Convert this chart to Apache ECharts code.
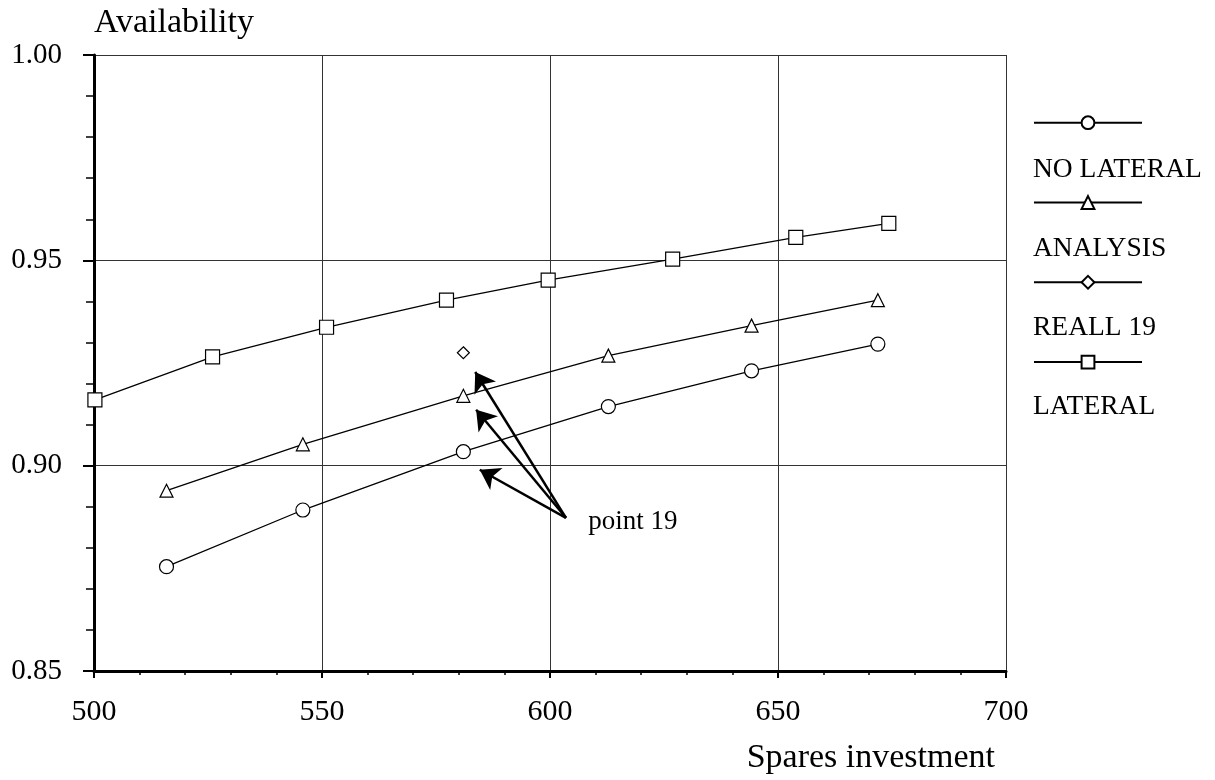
<!DOCTYPE html>
<html><head><meta charset="utf-8">
<script src="https://cdn.jsdelivr.net/npm/echarts@6/dist/echarts.min.js"></script>
<style>html,body{margin:0;padding:0;background:#fff}#c{width:1215px;height:780px}</style>
</head><body><div id="c"></div>
<script>
// ---- data ----
const seriesNames = ['NO LATERAL', 'ANALYSIS', 'REALL 19', 'LATERAL'];
const noLateralX = [515.9, 545.8, 581.0, 612.8, 644.2, 671.9];
const noLateralY = [0.8754, 0.8892, 0.9034, 0.9144, 0.9231, 0.9296];
const analysisX = [515.9, 545.8, 581.0, 612.8, 644.2, 671.9];
const analysisY = [0.8939, 0.9052, 0.9170, 0.9268, 0.9341, 0.9403];
const reallX = [581.0];
const reallY = [0.9275];
const lateralX = [500.2, 526.0, 551.0, 577.3, 599.6, 626.9, 653.9, 674.3];
const lateralY = [0.9160, 0.9265, 0.9337, 0.9403, 0.9452, 0.9503, 0.9556, 0.9590];
// arrow annotation: tail and three heads (data units)
const arrowTail = [603.5, 0.8873];
const arrowHeads = [[583.6, 0.9228], [583.8, 0.9136], [584.6, 0.8990]];
const annotationText = 'point 19';
const annotationAt = [608.3, 0.8863];
const xTicks = { min: 500, max: 700, interval: 50 };
const yTicks = { min: 0.85, max: 1.0, interval: 0.05 };

const zip = (xs, ys) => xs.map((x, i) => [x, ys[i]]);
const FONT = 'Liberation Serif';
const markerStyle = { color: '#fff', borderColor: '#000', borderWidth: 1.2, opacity: 1 };
const lineStyle = { color: '#000', width: 1.3 };

function mkSeries(name, data, symbol, size) {
  return {
    name, type: 'line', data, symbol, symbolSize: size, showSymbol: true,
    itemStyle: markerStyle, lineStyle, animation: false, z: 3,
    emphasis: { disabled: true }
  };
}

const series = [
  mkSeries(seriesNames[0], zip(noLateralX, noLateralY), 'circle', 14),
  mkSeries(seriesNames[1], zip(analysisX, analysisY), 'triangle', 13),
  mkSeries(seriesNames[2], zip(reallX, reallY), 'diamond', 12),
  mkSeries(seriesNames[3], zip(lateralX, lateralY), 'rect', 14),
  {
    name: 'annotation', type: 'scatter', data: [], color: '#000',
    itemStyle: { color: '#000' }, animation: false, z: 4,
    markLine: {
      silent: true, animation: false,
      symbol: ['none', 'arrow'], symbolSize: 19,
      itemStyle: { color: '#000' },
      lineStyle: { color: '#000', width: 2.5, type: 'solid' },
      label: { show: false },
      emphasis: { disabled: true },
      data: arrowHeads.map(h => [{ coord: arrowTail, symbol: 'none' }, { coord: h, symbol: 'arrow' }])
    },
    markPoint: {
      silent: true, animation: false,
      symbol: 'circle', symbolSize: 1, itemStyle: { color: 'rgba(0,0,0,0)' },
      label: { show: true, position: 'right', distance: 0, formatter: annotationText,
               color: '#000', fontFamily: FONT, fontSize: 27 },
      data: [{ coord: annotationAt }]
    }
  }
];

const chart = echarts.init(document.getElementById('c'), null, { renderer: 'canvas' });
chart.setOption({
  backgroundColor: '#fff',
  animation: false,
  grid: { left: 94, right: 209, top: 55, bottom: 109, containLabel: false },
  legend: [
    {
      data: seriesNames, orient: 'vertical', left: 1028, top: 110.3,
      itemWidth: 108, itemHeight: 16, itemGap: 65,
      formatter: () => '', textStyle: { fontSize: 10, lineHeight: 10 },
      selectedMode: false
    },
    {
      data: seriesNames.map(n => ({ name: n, icon: 'none' })), orient: 'vertical', left: 1022, top: 151,
      itemWidth: 1, itemHeight: 27, itemGap: 51,
      textStyle: { fontFamily: FONT, fontSize: 27.5, lineHeight: 27, color: '#000' },
      selectedMode: false
    }
  ],
  xAxis: {
    type: 'value', min: xTicks.min, max: xTicks.max, interval: xTicks.interval,
    name: 'Spares investment', nameLocation: 'end', nameGap: -11,
    nameTextStyle: { fontFamily: FONT, fontSize: 34, color: '#000', align: 'right', verticalAlign: 'top', padding: [70, 0, 0, 0] },
    axisLine: { show: true, onZero: false, lineStyle: { color: '#000', width: 3 } },
    axisTick: { show: true, inside: false, length: 7, lineStyle: { color: '#000', width: 2 } },
    minorTick: { show: true, splitNumber: 5, length: 4, lineStyle: { color: '#000', width: 1.5 } },
    axisLabel: { fontFamily: FONT, fontSize: 30, color: '#000', margin: 26 },
    splitLine: { show: true, lineStyle: { color: '#333', width: 1 } }
  },
  yAxis: {
    type: 'value', min: yTicks.min, max: yTicks.max, interval: yTicks.interval,
    name: 'Availability', nameLocation: 'end', nameGap: 32,
    nameTextStyle: { fontFamily: FONT, fontSize: 34, color: '#000', align: 'left', verticalAlign: 'middle' },
    axisLine: { show: true, onZero: false, lineStyle: { color: '#000', width: 3 } },
    axisTick: { show: true, inside: false, length: 11, lineStyle: { color: '#000', width: 2 } },
    minorTick: { show: true, splitNumber: 5, length: 8, lineStyle: { color: '#000', width: 1.5 } },
    axisLabel: { fontFamily: FONT, fontSize: 29, color: '#000', margin: 32, formatter: v => v.toFixed(2) },
    splitLine: { show: true, lineStyle: { color: '#333', width: 1 } }
  },
  series
});
</script></body></html>
